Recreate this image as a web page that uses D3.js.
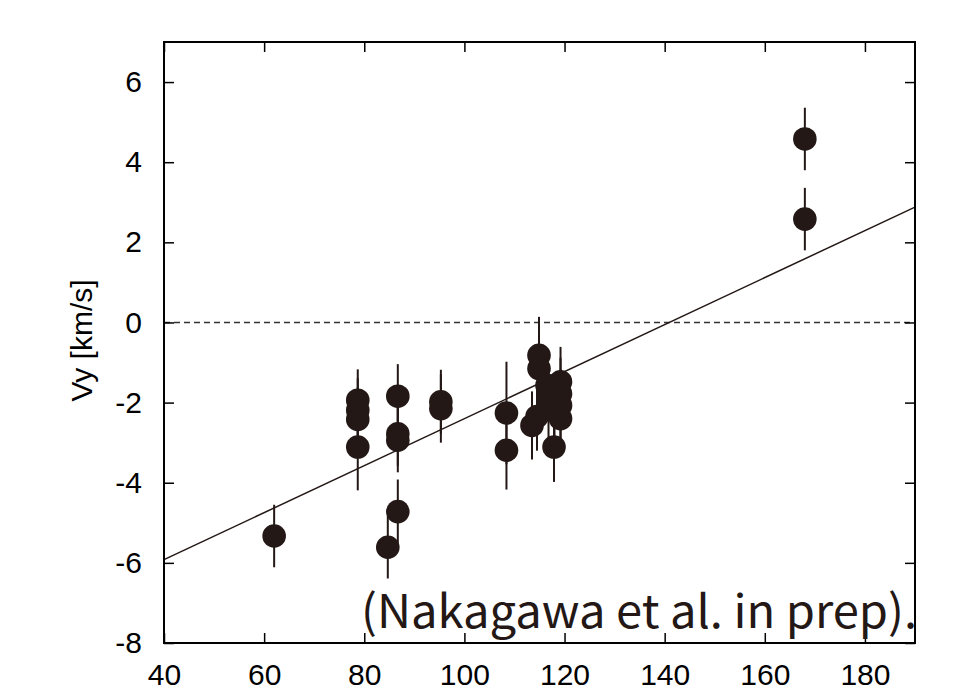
<!DOCTYPE html>
<html>
<head>
<meta charset="utf-8">
<script src="https://cdn.jsdelivr.net/npm/d3@7"></script>
<style>
  body { margin: 0; background: #fff; }
  svg { display: block; }
</style>
</head>
<body>
<svg width="968" height="698"></svg>
<script>
// distance-ish axis (x) and Vy with error bars
const xVals = [62, 78.7, 78.7, 78.7, 78.7, 86.7, 86.7, 86.7, 86.7, 84.7,
               95.3, 95.3, 108.4, 108.4,
               114.9, 114.9, 116.5, 116.8, 119.2, 119.2, 119.2, 119.2, 118.0, 113.5, 114.5, 117.9,
               168, 168];
const vyVals = [-5.33, -1.94, -2.19, -2.42, -3.11, -1.84, -2.78, -2.94, -4.72, -5.61,
                -1.98, -2.15, -2.26, -3.19,
                -0.82, -1.15, -1.57, -2.0, -1.48, -1.78, -2.07, -2.4, -2.2, -2.57, -2.35, -3.11,
                4.58, 2.58];
const vyErr = [0.78, 0.77, 0.8, 0.8, 1.08, 0.8, 0.8, 0.8, 0.8, 0.78,
               0.8, 0.85, 1.28, 0.98,
               0.96, 0.9, 0.9, 0.9, 0.87, 0.9, 0.9, 0.9, 0.9, 0.85, 0.85, 0.87,
               0.78, 0.78];

// linear fit end points
const fitX = [40, 190];
const fitY = [-5.92, 2.88];

const xTicks = [40, 60, 80, 100, 120, 140, 160, 180];
const yTicks = [-8, -6, -4, -2, 0, 2, 4, 6];
const yTitle = 'Vy [km/s]';
const note = '(Nakagawa et al. in prep).';

const ink = '#231815';
const svg = d3.select('svg');
const margin = { left: 164, right: 53, top: 42, bottom: 55 };
const W = 968, H = 698;

const x = d3.scaleLinear().domain([40, 190]).range([margin.left, W - margin.right]);
const y = d3.scaleLinear().domain([-8, 7]).range([H - margin.bottom, margin.top]);

// zero line
svg.append('line')
    .attr('x1', x(40)).attr('x2', x(190))
    .attr('y1', y(0)).attr('y2', y(0))
    .attr('stroke', '#333').attr('stroke-width', 1.4)
    .attr('stroke-dasharray', '6,4');

// fit line
svg.append('path')
    .datum(d3.zip(fitX, fitY))
    .attr('d', d3.line().x(d => x(d[0])).y(d => y(d[1])))
    .attr('fill', 'none').attr('stroke', ink).attr('stroke-width', 1.5);

const pts = xVals.map((v, i) => ({ x: v, y: vyVals[i], e: vyErr[i] }));

svg.append('g').selectAll('line')
    .data(pts).join('line')
    .attr('x1', d => x(d.x)).attr('x2', d => x(d.x))
    .attr('y1', d => y(d.y + d.e)).attr('y2', d => y(d.y - d.e))
    .attr('stroke', ink).attr('stroke-width', 2);

svg.append('g').selectAll('circle')
    .data(pts).join('circle')
    .attr('cx', d => x(d.x)).attr('cy', d => y(d.y))
    .attr('r', 11.8).attr('fill', ink);

// axes: ticks inside, mirrored on top and right
const axisFont = '"Liberation Sans", Arial, sans-serif';
const plain = d => String(d);
const gBottom = svg.append('g').attr('transform', `translate(0,${y(-8)})`)
    .call(d3.axisBottom(x).tickValues(xTicks).tickFormat(plain).tickSizeInner(-10).tickSizeOuter(0).tickPadding(21));
const gTop = svg.append('g').attr('transform', `translate(0,${y(7)})`)
    .call(d3.axisTop(x).tickValues(xTicks).tickSizeInner(-10).tickSizeOuter(0).tickFormat(''));
const gLeft = svg.append('g').attr('transform', `translate(${x(40)},0)`)
    .call(d3.axisLeft(y).tickValues(yTicks).tickFormat(plain).tickSizeInner(-10).tickSizeOuter(0).tickPadding(22));
const gRight = svg.append('g').attr('transform', `translate(${x(190)},0)`)
    .call(d3.axisRight(y).tickValues(yTicks).tickSizeInner(-10).tickSizeOuter(0).tickFormat(''));

[gBottom, gTop, gLeft, gRight].forEach(g => {
    g.select('.domain').remove();
    g.selectAll('.tick line').attr('stroke', '#000').attr('stroke-width', 1.5);
    g.selectAll('text').attr('font-family', axisFont).attr('font-size', 30).attr('fill', '#000');
});
gBottom.selectAll('text').attr('dy', '0.71em');

// frame
svg.append('rect')
    .attr('x', x(40)).attr('y', y(7))
    .attr('width', x(190) - x(40)).attr('height', y(-8) - y(7))
    .attr('fill', 'none').attr('stroke', '#000').attr('stroke-width', 2);

svg.append('text')
    .attr('transform', `translate(92,${(y(7) + y(-8)) / 2 - 2}) rotate(-90)`)
    .attr('text-anchor', 'middle')
    .attr('font-family', axisFont).attr('font-size', 30)
    .text(yTitle);

svg.append('text')
    .attr('x', 361).attr('y', 628)
    .attr('font-family', '"Noto Sans CJK JP", sans-serif').attr('font-size', 46)
    .attr('textLength', 556).attr('lengthAdjust', 'spacingAndGlyphs')
    .attr('fill', ink)
    .text(note);
</script>
</body>
</html>
